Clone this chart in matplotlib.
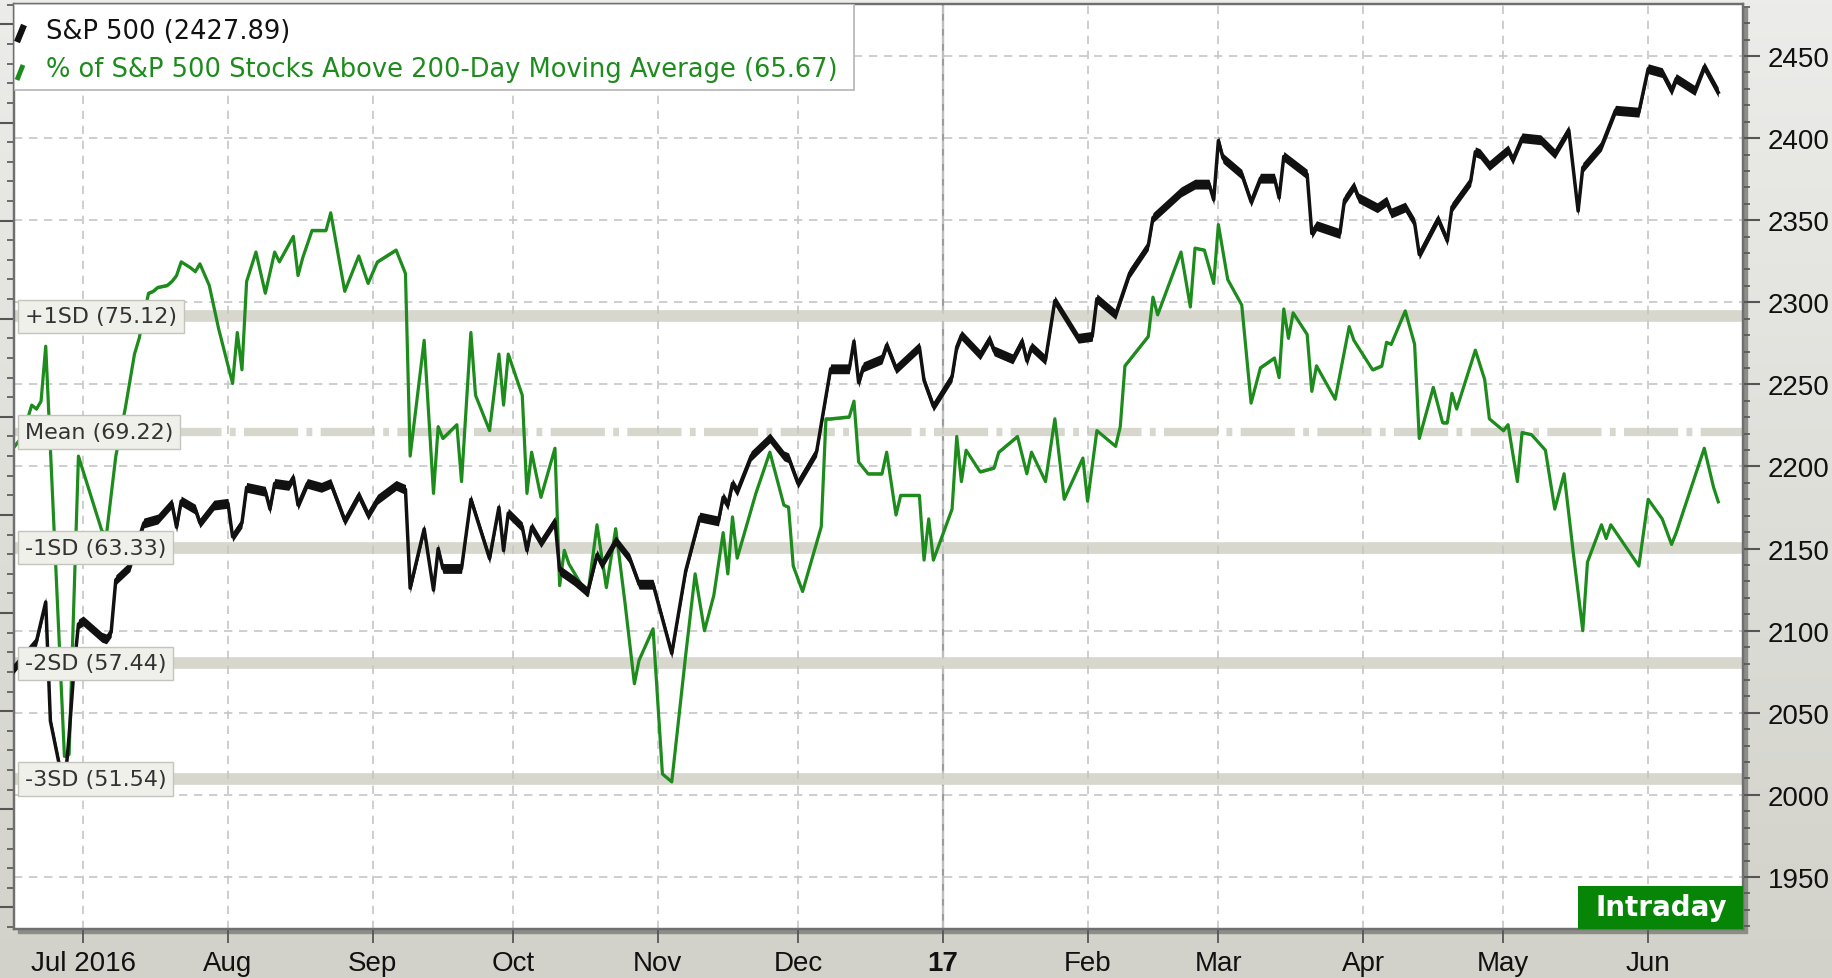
import numpy as np
import pandas as pd
import matplotlib
matplotlib.use('Agg')
import matplotlib.pyplot as plt
from matplotlib.patches import Rectangle
from matplotlib.ticker import MultipleLocator
from matplotlib.transforms import blended_transform_factory
from matplotlib.colors import LinearSegmentedColormap

# S&P 500 (right axis)
spx_dates = ['2016-06-16', '2016-06-21', '2016-06-23', '2016-06-24', '2016-06-27', '2016-06-28',
             '2016-06-29', '2016-06-30', '2016-07-01', '2016-07-05', '2016-07-06', '2016-07-07',
             '2016-07-08', '2016-07-11', '2016-07-14', '2016-07-17', '2016-07-20', '2016-07-21',
             '2016-07-22', '2016-07-25', '2016-07-26', '2016-07-29', '2016-08-01', '2016-08-02',
             '2016-08-04', '2016-08-05', '2016-08-09', '2016-08-10', '2016-08-11', '2016-08-14',
             '2016-08-15', '2016-08-16', '2016-08-18', '2016-08-21', '2016-08-23', '2016-08-26',
             '2016-08-29', '2016-08-31', '2016-09-02', '2016-09-06', '2016-09-08', '2016-09-09',
             '2016-09-12', '2016-09-14', '2016-09-15', '2016-09-16', '2016-09-20', '2016-09-22',
             '2016-09-26', '2016-09-28', '2016-09-29', '2016-09-30', '2016-10-03', '2016-10-04',
             '2016-10-05', '2016-10-07', '2016-10-10', '2016-10-11', '2016-10-14', '2016-10-17',
             '2016-10-19', '2016-10-20', '2016-10-23', '2016-10-26', '2016-10-28', '2016-10-31',
             '2016-11-04', '2016-11-07', '2016-11-10', '2016-11-14', '2016-11-15', '2016-11-16',
             '2016-11-17', '2016-11-18', '2016-11-21', '2016-11-25', '2016-11-28', '2016-11-29',
             '2016-12-01', '2016-12-05', '2016-12-08', '2016-12-12', '2016-12-13', '2016-12-14',
             '2016-12-15', '2016-12-19', '2016-12-20', '2016-12-22', '2016-12-27', '2016-12-28',
             '2016-12-30', '2017-01-03', '2017-01-04', '2017-01-05', '2017-01-09', '2017-01-11',
             '2017-01-12', '2017-01-16', '2017-01-18', '2017-01-19', '2017-01-20', '2017-01-23',
             '2017-01-25', '2017-01-30', '2017-02-02', '2017-02-03', '2017-02-07', '2017-02-10',
             '2017-02-14', '2017-02-15', '2017-02-21', '2017-02-24', '2017-02-27', '2017-02-28',
             '2017-03-01', '2017-03-02', '2017-03-06', '2017-03-08', '2017-03-10', '2017-03-13',
             '2017-03-14', '2017-03-15', '2017-03-20', '2017-03-21', '2017-03-22', '2017-03-27',
             '2017-03-28', '2017-03-30', '2017-03-31', '2017-04-04', '2017-04-06', '2017-04-07',
             '2017-04-10', '2017-04-12', '2017-04-13', '2017-04-17', '2017-04-19', '2017-04-20',
             '2017-04-24', '2017-04-25', '2017-04-26', '2017-04-28', '2017-05-02', '2017-05-03',
             '2017-05-05', '2017-05-09', '2017-05-12', '2017-05-15', '2017-05-17', '2017-05-18',
             '2017-05-22', '2017-05-25', '2017-05-30', '2017-06-01', '2017-06-04', '2017-06-06',
             '2017-06-07', '2017-06-11', '2017-06-13', '2017-06-16']
spx_values = [2076.5, 2093.4, 2117.5, 2045, 2003, 2036,
              2075, 2104, 2106, 2096, 2095, 2099,
              2131, 2139, 2165.6, 2168, 2177.6, 2163,
              2179, 2174, 2165.6, 2176.5, 2177.6, 2157.2,
              2165.6, 2187.3, 2184.9, 2174, 2189.7, 2188.5,
              2193.3, 2176.5, 2189.7, 2187.3, 2189.7, 2167,
              2182.5, 2170.4, 2180, 2188.5, 2186, 2125.9,
              2162, 2124.7, 2150, 2137.9, 2137.9, 2180,
              2143.9, 2175.2, 2148.8, 2171.6, 2163.2, 2148.8,
              2163.2, 2153.6, 2166.8, 2136.7, 2130.7, 2123.5,
              2146.4, 2140.3, 2154.8, 2143.9, 2128.3, 2128.3,
              2086.1, 2136.7, 2169.2, 2166.8, 2181.3, 2176.5,
              2189.7, 2184.9, 2206.5, 2217.4, 2206.5, 2205.3,
              2189.7, 2209, 2259.5, 2259.5, 2276.4, 2251.1,
              2260.7, 2265.5, 2274, 2259.5, 2272.8, 2252.3,
              2236.6, 2254.7, 2272.8, 2280, 2268, 2277.6,
              2270.4, 2265.5, 2276.4, 2264.3, 2272.8, 2264.9,
              2301, 2278.1, 2279.3, 2302.2, 2292.6, 2317.8,
              2334.7, 2351.6, 2367.2, 2372, 2372, 2362.4,
              2398.5, 2387.7, 2378, 2361.2, 2375.6, 2375.6,
              2363.6, 2388.9, 2378, 2341.9, 2346.7, 2341.9,
              2362.4, 2370.8, 2363.6, 2357.6, 2361.6, 2354.4,
              2358, 2348.4, 2329.1, 2350.8, 2337.5, 2358,
              2373.7, 2391.7, 2390.5, 2383.3, 2392.9, 2386.9,
              2400.2, 2399, 2390.5, 2405, 2355.6, 2382.1,
              2395.3, 2417, 2415.8, 2442.3, 2439.9, 2429,
              2436.3, 2429, 2443.5, 2427.89]

# % of S&P 500 stocks above 200-day moving average (left axis)
pct_dates = ['2016-06-16', '2016-06-18', '2016-06-20', '2016-06-21', '2016-06-22', '2016-06-23',
             '2016-06-27', '2016-06-28', '2016-06-30', '2016-07-05', '2016-07-06', '2016-07-08',
             '2016-07-10', '2016-07-12', '2016-07-13', '2016-07-15', '2016-07-16', '2016-07-17',
             '2016-07-19', '2016-07-20', '2016-07-21', '2016-07-22', '2016-07-24', '2016-07-25',
             '2016-07-26', '2016-07-28', '2016-07-30', '2016-08-02', '2016-08-03', '2016-08-04',
             '2016-08-05', '2016-08-07', '2016-08-09', '2016-08-11', '2016-08-12', '2016-08-15',
             '2016-08-16', '2016-08-17', '2016-08-19', '2016-08-22', '2016-08-23', '2016-08-26',
             '2016-08-29', '2016-08-31', '2016-09-02', '2016-09-06', '2016-09-08', '2016-09-09',
             '2016-09-12', '2016-09-14', '2016-09-15', '2016-09-16', '2016-09-19', '2016-09-20',
             '2016-09-22', '2016-09-23', '2016-09-26', '2016-09-28', '2016-09-29', '2016-09-30',
             '2016-10-03', '2016-10-04', '2016-10-05', '2016-10-07', '2016-10-10', '2016-10-11',
             '2016-10-12', '2016-10-13', '2016-10-17', '2016-10-19', '2016-10-21', '2016-10-23',
             '2016-10-25', '2016-10-27', '2016-10-28', '2016-10-31', '2016-11-02', '2016-11-04',
             '2016-11-07', '2016-11-09', '2016-11-11', '2016-11-13', '2016-11-15', '2016-11-16',
             '2016-11-17', '2016-11-18', '2016-11-22', '2016-11-25', '2016-11-28', '2016-11-29',
             '2016-11-30', '2016-12-02', '2016-12-06', '2016-12-07', '2016-12-08', '2016-12-12',
             '2016-12-13', '2016-12-14', '2016-12-16', '2016-12-19', '2016-12-20', '2016-12-22',
             '2016-12-23', '2016-12-27', '2016-12-28', '2016-12-29', '2016-12-30', '2017-01-03',
             '2017-01-04', '2017-01-05', '2017-01-06', '2017-01-09', '2017-01-12', '2017-01-13',
             '2017-01-17', '2017-01-19', '2017-01-20', '2017-01-23', '2017-01-25', '2017-01-27',
             '2017-01-31', '2017-02-01', '2017-02-03', '2017-02-07', '2017-02-08', '2017-02-09',
             '2017-02-14', '2017-02-15', '2017-02-16', '2017-02-21', '2017-02-23', '2017-02-24',
             '2017-02-26', '2017-02-28', '2017-03-01', '2017-03-03', '2017-03-06', '2017-03-08',
             '2017-03-10', '2017-03-13', '2017-03-14', '2017-03-15', '2017-03-16', '2017-03-17',
             '2017-03-20', '2017-03-21', '2017-03-22', '2017-03-26', '2017-03-29', '2017-03-30',
             '2017-04-03', '2017-04-05', '2017-04-06', '2017-04-07', '2017-04-10', '2017-04-12',
             '2017-04-13', '2017-04-16', '2017-04-18', '2017-04-19', '2017-04-20', '2017-04-21',
             '2017-04-23', '2017-04-25', '2017-04-27', '2017-04-28', '2017-05-01', '2017-05-02',
             '2017-05-04', '2017-05-05', '2017-05-07', '2017-05-10', '2017-05-12', '2017-05-14',
             '2017-05-16', '2017-05-18', '2017-05-19', '2017-05-22', '2017-05-23', '2017-05-24',
             '2017-05-30', '2017-06-01', '2017-06-04', '2017-06-06', '2017-06-07', '2017-06-13',
             '2017-06-15', '2017-06-16']
pct_values = [68.4, 69.0, 70.6, 70.4, 70.8, 73.6,
              52.7, 52.8, 68.0, 64.2, 64.0, 68.0,
              70.4, 73.2, 74.0, 76.3, 76.4, 76.6,
              76.7, 76.9, 77.2, 77.9, 77.6, 77.4,
              77.8, 76.7, 74.5, 71.7, 74.3, 72.4,
              76.9, 78.4, 76.3, 78.4, 77.9, 79.2,
              77.2, 78.1, 79.5, 79.5, 80.4, 76.4,
              78.2, 76.8, 77.9, 78.5, 77.3, 68.0,
              73.9, 66.1, 69.5, 68.9, 69.6, 66.7,
              74.3, 71.1, 69.3, 73.2, 70.6, 73.2,
              71.1, 66.1, 68.2, 65.9, 68.4, 61.4,
              63.2, 62.5, 60.9, 64.5, 61.3, 64.3,
              60.5, 56.4, 57.6, 59.2, 51.8, 51.4,
              57.9, 62.0, 59.1, 60.9, 64.1, 62.0,
              64.9, 62.8, 66.1, 68.2, 65.5, 65.4,
              62.4, 61.1, 64.4, 69.9, 69.9, 70.0,
              70.8, 67.7, 67.1, 67.1, 68.2, 65.0,
              66.0, 66.0, 62.7, 64.8, 62.7, 65.3,
              69.0, 66.7, 68.3, 67.2, 67.4, 68.2,
              69.0, 67.1, 68.2, 66.7, 69.9, 65.8,
              67.9, 65.7, 69.3, 68.5, 69.5, 72.6,
              74.1, 76.1, 75.2, 78.4, 75.6, 78.6,
              78.5, 76.8, 79.8, 77.0, 75.7, 70.7,
              72.5, 73.0, 72.0, 75.5, 74.0, 75.3,
              74.2, 71.3, 72.6, 70.9, 74.6, 73.9,
              72.4, 72.6, 73.8, 73.7, 75.4, 73.7,
              68.9, 71.5, 69.7, 69.7, 71.2, 70.4,
              71.9, 73.4, 71.9, 69.9, 69.3, 69.6,
              66.7, 69.2, 69.1, 68.3, 65.3, 67.1,
              63.0, 59.1, 62.6, 64.5, 63.8, 64.5,
              62.4, 65.8, 64.8, 63.5, 64.1, 68.4,
              66.4, 65.67]

sd_names = ['+1SD', 'Mean', '-1SD', '-2SD', '-3SD']
sd_levels = [75.12, 69.22, 63.33, 57.44, 51.54]

month_ticks = ['2016-07-01', '2016-08-01', '2016-09-01', '2016-10-01', '2016-11-01', '2016-12-01',
               '2017-01-01', '2017-02-01', '2017-03-01', '2017-04-01', '2017-05-01', '2017-06-01']
month_labels = ['Jul 2016', 'Aug', 'Sep', 'Oct', 'Nov', 'Dec', '17', 'Feb', 'Mar', 'Apr', 'May', 'Jun']

W, H = 1833, 979
fig = plt.figure(figsize=(W / 100, H / 100), dpi=100)

# background gradient
bg = fig.add_axes([0, 0, 1, 1], zorder=-10)
grad = np.linspace(0, 1, 256).reshape(-1, 1)
bg.imshow(grad, aspect='auto', extent=[0, 1, 0, 1],
          cmap=LinearSegmentedColormap.from_list('bg', ['#d2d2ca', '#ececea']), origin='lower')
bg.axis('off')

rect = [14 / W, 49 / H, 1729 / W, 925 / H]
fig.patches.append(Rectangle((rect[0] + 4 / W, rect[1] - 4 / H), rect[2], rect[3],
                             transform=fig.transFigure, color='#8c8c88', zorder=-5))

ax = fig.add_axes(rect)
ax2 = ax.twinx()
ax.set_facecolor('white')

x0 = pd.Timestamp('2016-06-16 05:00')
x1 = pd.Timestamp('2017-06-21 07:00')
ax.set_xlim(x0, x1)
ax.set_ylim(43.9, 91.04)
ax2.set_ylim(1918.3, 2481.7)

ticks = pd.to_datetime(month_ticks)

# grid
ax.set_xticks(ticks)
ax.grid(axis='x', color='#c6c6c6', linestyle=(0, (5, 4)), lw=1.2, zorder=0)
ax.axvline(pd.Timestamp('2017-01-01'), color='#9c9c9c', lw=1.6, zorder=0.6)
hgrid = blended_transform_factory(ax.transAxes, ax2.transData)
for v in range(1950, 2451, 50):
    ax.plot([0, 1], [v, v], transform=hgrid, color='#c6c6c6', linestyle=(0, (5, 4)),
            lw=1.2, zorder=0.5)

# SD bands
band_col = '#d7d7ce'
for name, lvl in zip(sd_names, sd_levels):
    if name == 'Mean':
        ax.axhline(lvl, color=band_col, lw=6.0, linestyle=(0, (6.5, 1.0, 0.7, 1.0)), zorder=1)
    else:
        ax.axhline(lvl, color=band_col, lw=8.4, zorder=1)

# green series
pd_dates = pd.to_datetime(pct_dates)
pv = np.array(pct_values)
green = '#1d8c1d'
ax.fill_between(pd_dates, pv - 0.07, pv + 0.07, color=green, lw=0, zorder=3)
ax.plot(pd_dates, pv, color=green, lw=2.3, zorder=3)

# black series
sd_dates = pd.to_datetime(spx_dates)
sv = np.array(spx_values)
ax2.fill_between(sd_dates, sv - 3.0, sv + 3.0, color='#111111', lw=0, zorder=3)
ax2.plot(sd_dates, sv, color='#111111', lw=2.5, zorder=3)

# axes styling
for a in (ax, ax2):
    for s in a.spines.values():
        s.set_color('#6f6f6f')
        s.set_linewidth(1.6)

ax.yaxis.set_major_locator(MultipleLocator(5))
ax.yaxis.set_minor_locator(MultipleLocator(1))
ax.tick_params(axis='y', which='major', left=True, length=11, width=1.5, color='#555555',
               labelleft=False)
ax.tick_params(axis='y', which='minor', left=True, length=5, width=1.2, color='#555555')

ax.set_xticklabels(month_labels)
ax.tick_params(axis='x', length=10, width=1.3, color='#555555', pad=5, labelsize=20)
for lab in ax.get_xticklabels():
    lab.set_family('Liberation Sans')
    lab.set_color('#111111')
    if lab.get_text() == '17':
        lab.set_fontweight('bold')

ax2.yaxis.set_major_locator(MultipleLocator(50))
ax2.yaxis.set_minor_locator(MultipleLocator(10))
ax2.set_yticks(range(1950, 2451, 50))
ax2.tick_params(axis='y', which='major', right=True, length=12, width=1.5, color='#555555',
                pad=6, labelsize=20)
ax2.tick_params(axis='y', which='minor', right=True, length=5, width=1.2, color='#555555')
for lab in ax2.get_yticklabels():
    lab.set_family('Liberation Sans')
    lab.set_color('#111111')

# SD labels
lab_tr = blended_transform_factory(ax2.transAxes, ax.transData)
for name, lvl in zip(sd_names, sd_levels):
    ax2.text(11 / 1729, lvl, '%s (%.2f)' % (name, lvl), transform=lab_tr, ha='left', va='center',
             fontsize=16, family='DejaVu Sans', color='#333333', zorder=8,
             bbox=dict(boxstyle='square,pad=0.3', fc='#f0f0eb', ec='#c4c4bc', lw=1.0))

# legend box
ax2.add_patch(Rectangle((0, 1 - 86 / 925), 840 / 1729, 86 / 925, transform=ax2.transAxes,
                        fc='white', ec='#b4b4b4', lw=1.2, zorder=9))
ax2.plot([3 / 1729, 10 / 1729], [1 - 38 / 925, 1 - 21 / 925], transform=ax2.transAxes,
         color='#111111', lw=4.5, solid_capstyle='butt', zorder=10)
ax2.plot([3 / 1729, 9 / 1729], [1 - 76 / 925, 1 - 61 / 925], transform=ax2.transAxes,
         color=green, lw=3.5, solid_capstyle='butt', zorder=10)
ax2.text(32 / 1729, 1 - 27 / 925, 'S&P 500 (2427.89)', transform=ax2.transAxes,
         ha='left', va='center', fontsize=18.5, family='DejaVu Sans', color='#111111', zorder=10)
ax2.text(32 / 1729, 1 - 65 / 925, '% of S&P 500 Stocks Above 200-Day Moving Average (65.67)',
         transform=ax2.transAxes, ha='left', va='center', fontsize=18.5, family='DejaVu Sans',
         color=green, zorder=10)

# Intraday badge
ax2.add_patch(Rectangle((1564 / 1729, 0), 165 / 1729, 43 / 925, transform=ax2.transAxes,
                        fc='#078507', ec='none', zorder=9))
ax2.text(1647 / 1729, 22 / 925, 'Intraday', transform=ax2.transAxes, ha='center', va='center',
         fontsize=20, fontweight='bold', family='DejaVu Sans', color='white', zorder=10)

fig.savefig('out.png', dpi=100)
